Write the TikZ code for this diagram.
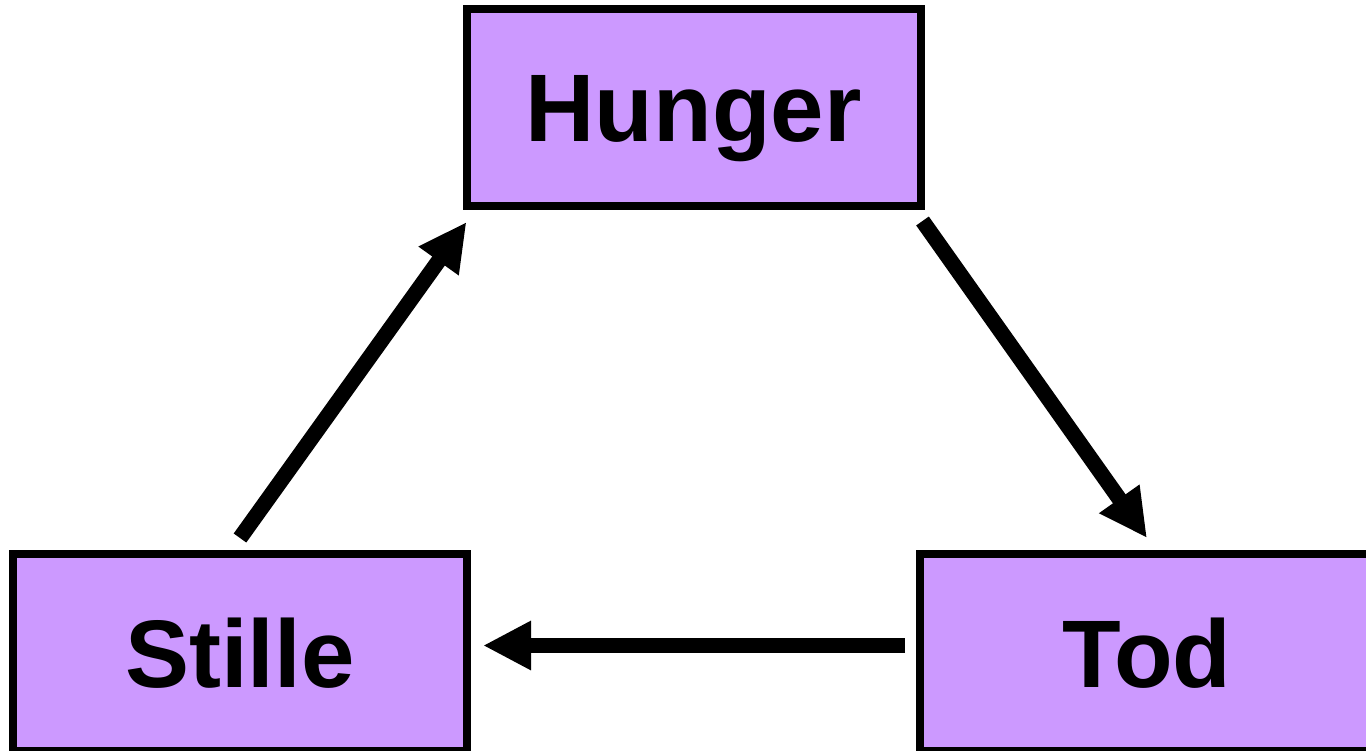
\documentclass[tikz,border=0pt]{standalone}
\usepackage{fontspec}
\setmainfont{Liberation Sans}
\usetikzlibrary{arrows.meta}
\definecolor{boxfill}{RGB}{204,153,255}
\tikzset{
  box/.style={draw=black, line width=8pt, fill=boxfill, outer sep=0pt,
    minimum width=454pt, minimum height=197pt, inner sep=0pt,
    font=\fontsize{96}{100}\selectfont\bfseries, text height=69pt, text depth=0pt},
  conn/.style={line width=15.5pt, -{Triangle[length=48pt,width=46pt]}}
}
\begin{document}
\begin{tikzpicture}[x=1pt,y=-1pt]
\clip (0,0) rectangle (1366,751);
\fill[white] (0,0) rectangle (1366,751);
\node[box] (hunger) at (693.5,107.5) {Hunger};
\node[box] (stille) at (240,652.5) {Stille};
\node[box] (tod) at (1147,652.5) {Tod};
\draw[conn] ([yshift=16pt]stille.north) -- ([yshift=-16pt]hunger.south west);
\draw[conn] ([shift={(2pt,-15pt)}]hunger.south east) -- ([yshift=16pt]tod.north);
\draw[conn] ([shift={(-15pt,7pt)}]tod.west) -- ([shift={(16pt,7pt)}]stille.east);
\end{tikzpicture}
\end{document}
